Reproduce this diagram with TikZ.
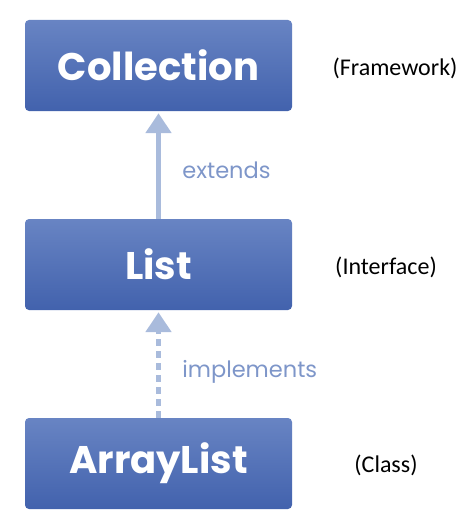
\documentclass[tikz,border=0pt]{standalone}
\usepackage{fontspec}
\setmainfont{Carlito}
\newfontfamily\boxfont{Poppins}
\usepackage{tikz}
\usetikzlibrary{arrows.meta,positioning}

\definecolor{boxtop}{HTML}{6884C3}
\definecolor{boxbot}{HTML}{4262AD}
\definecolor{arrowblue}{HTML}{A9BBDC}
\definecolor{labelblue}{HTML}{7E96C9}

\tikzset{
  classbox/.style={rounded corners=4pt, minimum width=267pt, minimum height=91pt,
    top color=boxtop, bottom color=boxbot, text=white,
    font=\boxfont\bfseries\fontsize{38.5}{44}\selectfont},
  relarrow/.style={draw=arrowblue, line width=5pt,
    -{Triangle[width=25pt,length=20pt,fill=arrowblue]}, shorten >=2pt},
  rellabel/.style={text=labelblue, font=\boxfont\fontsize{22.5}{26}\selectfont, right=18pt},
  kindlabel/.style={font=\fontsize{24}{28}\selectfont}
}

\begin{document}
\begin{tikzpicture}[x=1pt,y=-1pt]
\useasboundingbox (0,0) rectangle (474,519);
\node[classbox] (collection) at (158.5,65.5) {Collection};
\node[classbox] (list) at (158.5,264.5) {List};
\node[classbox] (arraylist) at (158.5,463.5) {ArrayList};
\draw[relarrow] (list) -- node[rellabel, pos=0.45] {extends} (collection); % extends
\draw[relarrow, dash pattern=on 7pt off 5pt] (arraylist) -- node[rellabel, pos=0.43] {implements} (list); % implements
\node[kindlabel] (framework) at (395,68) {(Framework)};
\node[kindlabel] (interface) at (386,267) {(Interface)};
\node[kindlabel] (class) at (386,465) {(Class)};
\end{tikzpicture}
\end{document}
